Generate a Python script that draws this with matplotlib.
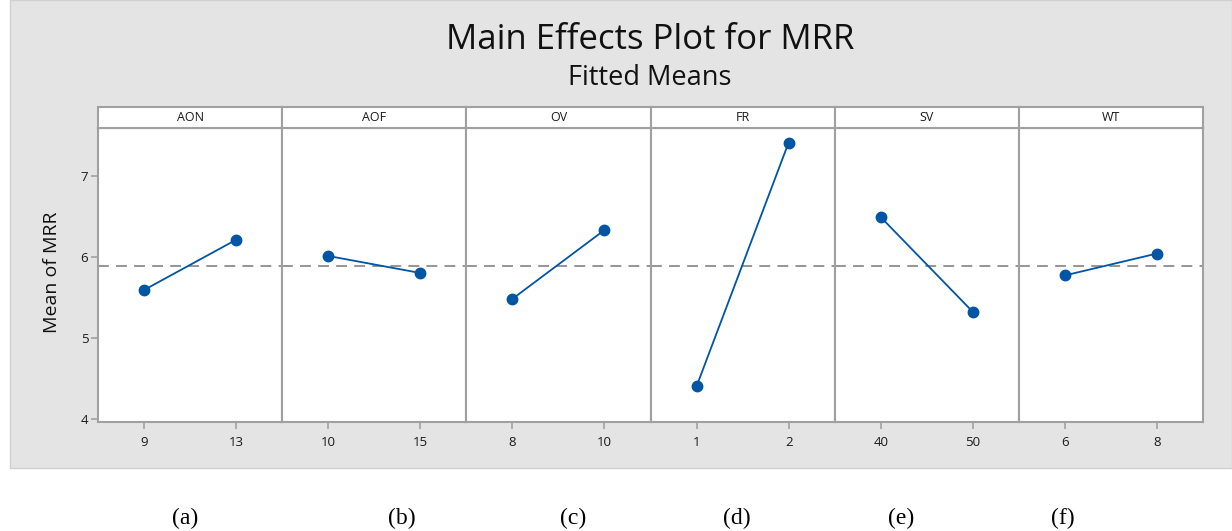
import matplotlib
matplotlib.use("Agg")
import matplotlib.pyplot as plt
from matplotlib.patches import Rectangle

# data
factors = ['AON', 'AOF', 'OV', 'FR', 'SV', 'WT']
levels = [['9', '13'], ['10', '15'], ['8', '10'], ['1', '2'], ['40', '50'], ['6', '8']]
means = [[5.59, 6.21], [6.01, 5.80], [5.48, 6.33], [4.40, 7.41], [6.49, 5.32], [5.77, 6.04]]
grand_mean = 5.89
sub_labels = ['(a)', '(b)', '(c)', '(d)', '(e)', '(f)']
sub_x = [185, 402, 573, 737, 901, 1063]

W, H = 1232, 531
fig = plt.figure(figsize=(W / 100, H / 100), dpi=100)
fig.patch.set_facecolor('white')

# gray minitab background (behind the axes)
fig.patches.append(Rectangle((10 / W, 1 - 468 / H), 1 - 10 / W, 468 / H,
                             transform=fig.transFigure, facecolor='#e4e4e4',
                             edgecolor='#d0d0d0', lw=1, zorder=-5))

fig.text(650 / W, 1 - 40 / H, 'Main Effects Plot for MRR', ha='center', va='center',
         fontsize=25, family='Open Sans', color='#111111')
fig.text(650 / W, 1 - 78 / H, 'Fitted Means', ha='center', va='center',
         fontsize=19.5, family='Open Sans', color='#111111')
fig.text(52 / W, 1 - 272 / H, 'Mean of MRR', ha='center', va='center', rotation=90,
         fontsize=14, family='Open Sans', color='#111111')

left, right = 98, 1203
pw = (right - left) / 6
ax_bot, ax_top = 422, 128
strip_top = 107
edge = '#a0a0a0'
blue = '#0055a5'
tick_font = dict(fontsize=9.5, family='Open Sans', color='#1a1a1a')

for i, f in enumerate(factors):
    x0 = left + i * pw
    ax = fig.add_axes([x0 / W, 1 - ax_bot / H, pw / W, (ax_bot - ax_top) / H])
    ax.plot([0, 1], means[i], color=blue, lw=1.3, marker='o', ms=7.5, zorder=3)
    ax.axhline(grand_mean, color='#8c8c8c', lw=1.3, ls=(0, (6, 4)), zorder=2)
    ax.set_xlim(-0.5, 1.5)
    ax.set_ylim(3.96, 7.59)
    ax.set_xticks([0, 1])
    ax.set_xticklabels(levels[i], **tick_font)
    ax.set_yticks([4, 5, 6, 7])
    if i == 0:
        ax.set_yticklabels(['4', '5', '6', '7'], **tick_font)
    else:
        ax.tick_params(axis='y', left=False, labelleft=False)
    ax.tick_params(direction='out', length=5, color=edge, width=1.2)
    ax.tick_params(axis='x', pad=5)
    ax.tick_params(axis='y', pad=2)
    for s in ax.spines.values():
        s.set_color(edge)
        s.set_linewidth(1.5)

    sx = fig.add_axes([x0 / W, 1 - ax_top / H, pw / W, (ax_top - strip_top) / H])
    sx.set_xticks([])
    sx.set_yticks([])
    sx.set_facecolor('white')
    for s in sx.spines.values():
        s.set_color(edge)
        s.set_linewidth(1.5)
    sx.text(0.5, 0.5, f, transform=sx.transAxes, ha='center', va='center',
            fontsize=9, family='Open Sans', color='#1a1a1a')

for lab, x in zip(sub_labels, sub_x):
    fig.text(x / W, 1 - 518 / H, lab, ha='center', va='center', fontsize=17,
             family='Liberation Serif', color='black')

fig.savefig('out.png', dpi=100)
